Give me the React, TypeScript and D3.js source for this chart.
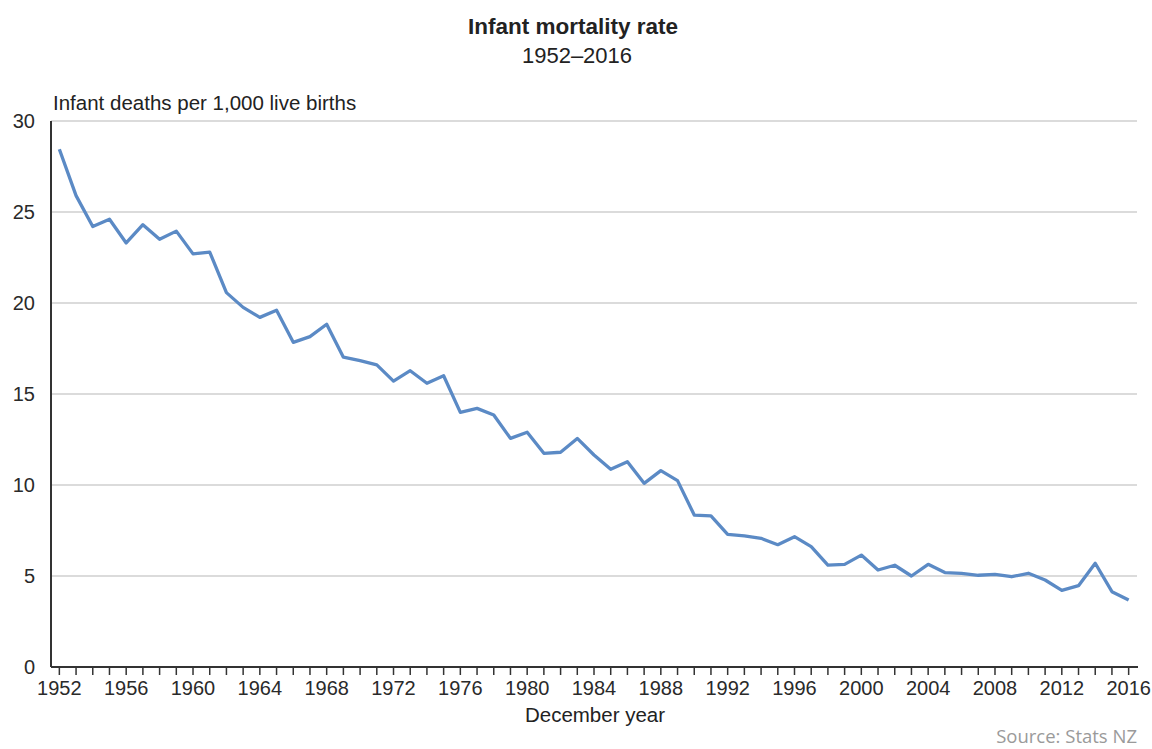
import React from "react";
import * as d3 from "d3";

const years: number[] = d3.range(1952, 2017);
const rates: number[] = [
  28.45, 25.9, 24.2, 24.6, 23.3, 24.3, 23.5, 23.95, 22.7, 22.8,
  20.57, 19.76, 19.21, 19.6, 17.84, 18.15, 18.83, 17.02, 16.83, 16.6,
  15.71, 16.28, 15.59, 16.0, 13.99, 14.21, 13.85, 12.56, 12.9, 11.74,
  11.8, 12.56, 11.65, 10.86, 11.28, 10.09, 10.79, 10.24, 8.35, 8.3,
  7.29, 7.21, 7.07, 6.72, 7.16, 6.61, 5.6, 5.64, 6.15, 5.33,
  5.59, 5.0, 5.64, 5.19, 5.14, 5.04, 5.09, 4.96, 5.15, 4.78,
  4.21, 4.47, 5.7, 4.14, 3.68,
];
const yTicks: number[] = [0, 5, 10, 15, 20, 25, 30];
const xLabelYears: number[] = years.filter((y) => (y - 1952) % 4 === 0);

const title = "Infant mortality rate";
const subtitle = "1952–2016";
const yAxisTitle = "Infant deaths per 1,000 live births";
const xAxisTitle = "December year";
const source = "Source: Stats NZ";

export default function App() {
  const W = 1152;
  const H = 749;
  const left = 51;
  const right = 1137;
  const top = 121;
  const bottom = 667;

  const x = d3.scalePoint<number>().domain(years).range([left, right]).padding(0.5);
  const y = d3.scaleLinear().domain([0, 30]).range([bottom, top]);

  const line = d3
    .line<number>()
    .x((_, i) => x(years[i]) as number)
    .y((d) => y(d));

  const font = "'Liberation Sans', Arial, sans-serif";

  return (
    <svg
      width={W}
      height={H}
      style={{ position: "absolute", left: 0, top: 0, background: "#fff" }}
      fontFamily={font}
    >
      <text x={573} y={34} textAnchor="middle" fontSize={22.5} fontWeight="bold" fill="#222">
        {title}
      </text>
      <text x={577} y={63} textAnchor="middle" fontSize={22} fill="#222">
        {subtitle}
      </text>
      <text x={53} y={110} fontSize={20.5} fill="#222">
        {yAxisTitle}
      </text>

      {yTicks
        .filter((t) => t > 0)
        .map((t) => (
          <line key={"g" + t} x1={left} x2={right} y1={y(t)} y2={y(t)} stroke="#cfcfcf" strokeWidth={1.6} />
        ))}

      {yTicks.map((t) => (
        <text key={"yl" + t} x={35} y={y(t) + 7} textAnchor="end" fontSize={20} fill="#2a2a2a">
          {t}
        </text>
      ))}

      <path d={line(rates) || ""} fill="none" stroke="#5b8ac5" strokeWidth={3.3} strokeLinejoin="round" />

      <line x1={left} x2={left} y1={top} y2={bottom} stroke="#333" strokeWidth={2} />
      <line x1={left} x2={right + 1} y1={bottom} y2={bottom} stroke="#333" strokeWidth={2} />
      {years.map((yr) => (
        <line
          key={"t" + yr}
          x1={x(yr)}
          x2={x(yr)}
          y1={bottom}
          y2={bottom + 8}
          stroke="#333"
          strokeWidth={1.5}
        />
      ))}
      {xLabelYears.map((yr) => (
        <text key={"xl" + yr} x={x(yr)} y={695} textAnchor="middle" fontSize={20} fill="#2a2a2a">
          {yr}
        </text>
      ))}
      <text x={595} y={722} textAnchor="middle" fontSize={20.5} fill="#222">
        {xAxisTitle}
      </text>
      <text x={1137} y={743} textAnchor="end" fontSize={18.5} fill="#9a9a9a" fontFamily="'Open Sans', sans-serif">
        {source}
      </text>
    </svg>
  );
}
